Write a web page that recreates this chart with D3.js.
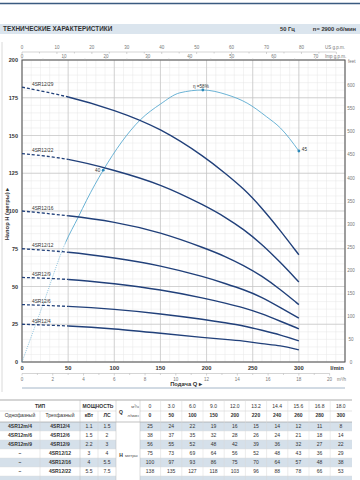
<!DOCTYPE html>
<html lang="ru">
<head>
<meta charset="UTF-8">
<title>4SR12 - характеристики</title>
<script src="https://d3js.org/d3.v7.min.js"></script>
<style>
  body { margin: 0; background: #fff; font-family: "Liberation Sans", Arial, sans-serif; }
  svg { display: block; }
  .minor line { stroke: #e6e6e6; stroke-width: 0.5; }
  .major line { stroke: #c4c4c4; stroke-width: 0.7; }
  .tick-gray { fill: #777; font-size: 4.5px; }
  .cell { fill: #333; font-size: 5px; text-anchor: middle; }
</style>
</head>
<body>
<svg width="360" height="480"></svg>
<script>
// flow points of the curves and the table (l/min and m3/h)
const flowLpm = [0, 50, 100, 150, 200, 220, 240, 260, 280, 300];
const flowM3h = ["0", "3.0", "6.0", "9.0", "12.0", "13.2", "14.4", "15.6", "16.8", "18.0"];

// pump models
const threePhase = ["4SR12/4", "4SR12/6", "4SR12/9", "4SR12/12", "4SR12/16", "4SR12/22", "4SR12/29"];
const singlePhase = ["4SR12m/4", "4SR12m/6", "4SR12m/9", "–", "–", "–", "–"];
const powerKw = ["1.1", "1.5", "2.2", "3", "4", "5.5", "7.5"];
const powerHp = ["1.5", "2", "3", "4", "5.5", "7.5", "10"];

// head in metres for each model
const head4  = [25, 24, 22, 19, 16, 15, 14, 12, 11, 8];
const head6  = [38, 37, 35, 32, 28, 26, 24, 21, 18, 14];
const head9  = [56, 55, 52, 48, 42, 39, 36, 32, 27, 22];
const head12 = [75, 73, 69, 64, 56, 52, 48, 43, 36, 29];
const head16 = [100, 97, 93, 86, 75, 70, 64, 57, 48, 38];
const head22 = [138, 135, 127, 118, 103, 96, 88, 78, 66, 53];
const head29 = [182, 176, 167, 155, 135, 125, 115, 102, 87, 71];
const heads = [head4, head6, head9, head12, head16, head22, head29];

// efficiency curve (%)
const effFlow  = [0, 23, 47, 61, 70, 88, 128, 150, 171, 196, 222, 244, 265, 280, 300];
const effValue = [0, 12.4, 25.4, 30.9, 34.5, 40.9, 51.6, 55.0, 57.4, 58, 57, 55.2, 52.3, 49.9, 45];
const effMarkIdx = [5, 9, 14];
const effMarkLabel = ["40", "η =58%", "45"];

// axis ticks
const headTicks = [0, 25, 50, 75, 100, 125, 150, 175, 200];
const flowTicks = [0, 50, 100, 150, 200, 250, 300];
const feetTicks = d3.range(0, 601, 50);
const usTicks = d3.range(0, 81, 10);
const impTicks = d3.range(0, 71, 10);
const m3Ticks = d3.range(0, 21, 2);

const svg = d3.select("svg");
const pLeft = 22, pRight = 345, pTop = 60, pBottom = 362;

const x = d3.scaleLinear().domain([0, 350]).range([pLeft, pRight]);
const y = d3.scaleLinear().domain([0, 200]).range([pBottom, pTop]);
const yEff = d3.scaleLinear().domain([0, 64.4]).range([pBottom, pTop]);
const yFeet = d3.scaleLinear().domain([0, 200 / 0.3048]).range([pBottom, pTop]);
const xUs = d3.scaleLinear().domain([0, 350 / 3.785]).range([pLeft, pRight]);
const xImp = d3.scaleLinear().domain([0, 350 / 4.546]).range([pLeft, pRight]);
const xM3 = d3.scaleLinear().domain([0, 21]).range([pLeft, pRight]);

// page header
svg.append("line").attr("x1", 0).attr("x2", 360).attr("y1", 3.5).attr("y2", 3.5)
   .attr("stroke", "#3a5a80").attr("stroke-width", 1.6);
svg.append("line").attr("x1", 2).attr("x2", 2).attr("y1", 42).attr("y2", 392)
   .attr("stroke", "#d0d0d0").attr("stroke-width", 0.8);
svg.append("rect").attr("x", 0).attr("y", 24).attr("width", 360).attr("height", 10).attr("fill", "#dbe5ee");
svg.append("text").attr("x", 3).attr("y", 31.3).attr("font-size", 6.4).attr("font-weight", "bold")
   .attr("fill", "#333").text("ТЕХНИЧЕСКИЕ ХАРАКТЕРИСТИКИ");
svg.append("text").attr("x", 280).attr("y", 31.3).attr("font-size", 5.8).attr("font-weight", "bold")
   .attr("fill", "#333").text("50 Гц");
svg.append("text").attr("x", 356).attr("y", 31.3).attr("font-size", 5.8).attr("font-weight", "bold")
   .attr("fill", "#333").attr("text-anchor", "end").text("n= 2900  об/мин");

// grid
svg.append("g").attr("class", "minor").selectAll("line")
   .data(d3.range(0, 351, 10)).join("line")
   .attr("x1", d => x(d)).attr("x2", d => x(d)).attr("y1", pTop).attr("y2", pBottom);
svg.append("g").attr("class", "minor").selectAll("line")
   .data(d3.range(0, 201, 5)).join("line")
   .attr("x1", pLeft).attr("x2", pRight).attr("y1", d => y(d)).attr("y2", d => y(d));
svg.append("g").attr("class", "major").selectAll("line")
   .data(d3.range(0, 351, 50)).join("line")
   .attr("x1", d => x(d)).attr("x2", d => x(d)).attr("y1", pTop).attr("y2", pBottom);
svg.append("g").attr("class", "major").selectAll("line")
   .data(headTicks).join("line")
   .attr("x1", pLeft).attr("x2", pRight).attr("y1", d => y(d)).attr("y2", d => y(d));
svg.append("rect").attr("x", pLeft).attr("y", pTop).attr("width", pRight - pLeft).attr("height", pBottom - pTop)
   .attr("fill", "none").attr("stroke", "#555").attr("stroke-width", 1);

// left axis
svg.append("g").selectAll("text").data(headTicks).join("text")
   .attr("x", 18).attr("y", d => y(d) + 2).attr("text-anchor", "end")
   .attr("font-size", 5.5).attr("font-weight", "bold").attr("fill", "#333").text(d => d);
svg.append("text").attr("transform", "translate(9,214) rotate(-90)").attr("text-anchor", "middle")
   .attr("font-size", 5.8).attr("font-weight", "bold").attr("fill", "#333").text("Напор Н (метры) ▸");

// right axis (feet)
svg.append("g").selectAll("text").data(feetTicks).join("text")
   .attr("class", "tick-gray").attr("x", 351).attr("y", d => yFeet(d) + 1.6)
   .attr("text-anchor", "middle").text(d => d);
svg.append("text").attr("class", "tick-gray").attr("x", 348).attr("y", 63).text("feet");

// top axes (US and Imp g.p.m.)
svg.append("line").attr("x1", pLeft).attr("x2", xUs(90)).attr("y1", 52).attr("y2", 52)
   .attr("stroke", "#aaa").attr("stroke-width", 0.5);
svg.append("g").selectAll("line").data(d3.range(0, 91, 5)).join("line")
   .attr("x1", d => xUs(d)).attr("x2", d => xUs(d)).attr("y1", 52).attr("y2", d => d % 10 ? 53.5 : 54)
   .attr("stroke", "#aaa").attr("stroke-width", 0.5);
svg.append("g").selectAll("text").data(usTicks).join("text")
   .attr("class", "tick-gray").attr("x", d => xUs(d)).attr("y", 48.5).attr("text-anchor", "middle").text(d => d);
svg.append("g").selectAll("line").data(d3.range(0, 76, 5)).join("line")
   .attr("x1", d => xImp(d)).attr("x2", d => xImp(d)).attr("y1", pTop).attr("y2", d => d % 10 ? pTop - 1.5 : pTop - 2)
   .attr("stroke", "#aaa").attr("stroke-width", 0.5);
svg.append("g").selectAll("text").data(impTicks).join("text")
   .attr("class", "tick-gray").attr("x", d => xImp(d)).attr("y", 57.5).attr("text-anchor", "middle").text(d => d);
svg.append("text").attr("class", "tick-gray").attr("x", 325).attr("y", 48.5).text("US g.p.m.");
svg.append("text").attr("class", "tick-gray").attr("x", 325).attr("y", 57.5).text("Imp g.p.m.");

// bottom axes
svg.append("g").selectAll("text").data(flowTicks).join("text")
   .attr("x", d => x(d)).attr("y", 370).attr("text-anchor", "middle")
   .attr("font-size", 5.8).attr("font-weight", "bold").attr("fill", "#333").text(d => d);
svg.append("text").attr("x", 337).attr("y", 370).attr("text-anchor", "middle")
   .attr("font-size", 5.8).attr("font-weight", "bold").attr("fill", "#333").text("l/min");
svg.append("line").attr("x1", pLeft).attr("x2", xM3(20)).attr("y1", 373.5).attr("y2", 373.5)
   .attr("stroke", "#aaa").attr("stroke-width", 0.5);
svg.append("g").selectAll("line").data(d3.range(0, 21, 1)).join("line")
   .attr("x1", d => xM3(d)).attr("x2", d => xM3(d)).attr("y1", 373.5).attr("y2", d => d % 2 ? 375 : 375.5)
   .attr("stroke", "#aaa").attr("stroke-width", 0.5);
svg.append("g").selectAll("text").data(m3Ticks).join("text")
   .attr("class", "tick-gray").attr("x", d => xM3(d)).attr("y", 380.5).attr("text-anchor", "middle").text(d => d);
svg.append("text").attr("class", "tick-gray").attr("x", 337).attr("y", 380.5).text("m³/h");
svg.append("text").attr("x", 186).attr("y", 385.5).attr("text-anchor", "middle")
   .attr("font-size", 5.8).attr("font-weight", "bold").attr("fill", "#333").text("Подача Q ▸");
svg.append("line").attr("x1", pLeft).attr("x2", pRight).attr("y1", 388).attr("y2", 388)
   .attr("stroke", "#8ea3ba").attr("stroke-width", 0.8);

// clip regions: dashed start and solid rest
const defs = svg.append("defs");
defs.append("clipPath").attr("id", "clipDash").append("rect")
    .attr("x", pLeft - 2).attr("y", 0).attr("width", x(50) - pLeft + 2).attr("height", 480);
defs.append("clipPath").attr("id", "clipSolid").append("rect")
    .attr("x", x(50)).attr("y", 0).attr("width", pRight - x(50)).attr("height", 480);
defs.append("clipPath").attr("id", "clipEffDot").append("rect")
    .attr("x", pLeft - 2).attr("y", 0).attr("width", x(effFlow[2]) - pLeft + 2).attr("height", 480);
defs.append("clipPath").attr("id", "clipEffSolid").append("rect")
    .attr("x", x(effFlow[2])).attr("y", 0).attr("width", pRight - x(effFlow[2])).attr("height", 480);

// efficiency curve
const effLine = d3.line().x(d => x(d[0])).y(d => yEff(d[1])).curve(d3.curveMonotoneX);
const effPts = effFlow.map((q, i) => [q, effValue[i]]);
svg.append("path").attr("d", effLine(effPts)).attr("clip-path", "url(#clipEffDot)")
   .attr("fill", "none").attr("stroke", "#5aaad0").attr("stroke-width", 0.8).attr("stroke-dasharray", "0.8,1.2");
svg.append("path").attr("d", effLine(effPts)).attr("clip-path", "url(#clipEffSolid)")
   .attr("fill", "none").attr("stroke", "#5aaad0").attr("stroke-width", 0.9);

// pump curves
const pumpLine = d3.line().x(d => x(d[0])).y(d => y(d[1])).curve(d3.curveBasis);
heads.forEach((h, k) => {
  const pts = flowLpm.map((q, i) => [q, h[i]]);
  svg.append("path").attr("d", pumpLine(pts)).attr("clip-path", "url(#clipDash)")
     .attr("fill", "none").attr("stroke", "#21407a").attr("stroke-width", 1.3).attr("stroke-dasharray", "3,2");
  svg.append("path").attr("d", pumpLine(pts)).attr("clip-path", "url(#clipSolid)")
     .attr("fill", "none").attr("stroke", "#21407a").attr("stroke-width", 1.4);
  svg.append("text").attr("x", x(0) + 10).attr("y", y(h[0]) - 1.5)
     .attr("font-size", 4.8).attr("fill", "#333").text(threePhase[k]);
});

// efficiency markers
effMarkIdx.forEach((idx, k) => {
  const cx = x(effFlow[idx]), cy = yEff(effValue[idx]);
  svg.append("circle").attr("cx", cx).attr("cy", cy).attr("r", 1.4).attr("fill", "#2c88b8");
  const t = svg.append("text").attr("font-size", 4.6).attr("fill", "#333").text(effMarkLabel[k]);
  if (k === 0) t.attr("x", cx - 3).attr("y", cy + 1.5).attr("text-anchor", "end");
  else if (k === 1) t.attr("x", cx - 2).attr("y", cy - 2.5).attr("text-anchor", "middle");
  else t.attr("x", cx + 3).attr("y", cy).attr("text-anchor", "start");
});

// table
const tTop = 400, rowH = 9, dataTop = 422;
const colX = flowM3h.map((d, i) => 150 + i * 21.2);
const tbl = svg.append("g");
threePhase.forEach((m, i) => {
  if (i % 2 === 0) {
    tbl.append("rect").attr("x", 0).attr("y", dataTop + i * rowH).attr("width", 116).attr("height", rowH).attr("fill", "#d5e0ea");
    tbl.append("rect").attr("x", 140).attr("y", dataTop + i * rowH).attr("width", 212).attr("height", rowH).attr("fill", "#d5e0ea");
  }
});
// lines
const hl = (x1, x2, yy, c, w) => tbl.append("line").attr("x1", x1).attr("x2", x2).attr("y1", yy).attr("y2", yy)
  .attr("stroke", c).attr("stroke-width", w);
const vl = (xx, y1, y2, c) => tbl.append("line").attr("x1", xx).attr("x2", xx).attr("y1", y1).attr("y2", y2)
  .attr("stroke", c).attr("stroke-width", 0.5);
hl(0, 352, tTop, "#888", 0.7);
hl(0, 116, 411, "#c8c8c8", 0.5);
hl(140, 352, 411, "#c8c8c8", 0.5);
hl(0, 352, dataTop, "#999", 0.6);
threePhase.forEach((m, i) => { hl(0, 116, dataTop + (i + 1) * rowH, "#d8d8d8", 0.4); hl(140, 352, dataTop + (i + 1) * rowH, "#d8d8d8", 0.4); });
[80, 116, 140].forEach(xx => vl(xx, tTop, 480, "#bbb"));
vl(40, 411, 480, "#d0d0d0");
vl(98, 411, 480, "#d0d0d0");
colX.slice(1).forEach(cx => vl(cx - 10.6, tTop, 480, "#d8d8d8"));

const cell = (tx, ty, s, bold, size) => tbl.append("text").attr("class", "cell").attr("x", tx).attr("y", ty)
  .attr("font-weight", bold ? "bold" : null).attr("font-size", size || 5).text(s);
cell(40, 407.5, "ТИП", true);
cell(98, 407.5, "МОЩНОСТЬ", true);
cell(20, 417, "Однофазный", false, 4.6);
cell(60, 417, "Трехфазный", false, 4.6);
cell(89, 417, "кВт", true);
cell(107, 417, "ЛС", true);
cell(121, 413.5, "Q", true, 7.5);
tbl.append("text").attr("x", 139).attr("y", 407.5).attr("text-anchor", "end").attr("font-size", 4.3).attr("fill", "#555").text("м³/ч");
tbl.append("text").attr("x", 139).attr("y", 417).attr("text-anchor", "end").attr("font-size", 4.3).attr("fill", "#555").text("л/мин");
flowM3h.forEach((s, i) => cell(colX[i], 407.5, s, false));
flowLpm.forEach((q, i) => cell(colX[i], 417, q, true));
cell(121, 457, "H", true, 6.5);
tbl.append("text").attr("x", 125).attr("y", 456.5).attr("font-size", 4.3).attr("fill", "#555").text("метры");
// the last row (4SR12/29) falls below the picture edge: only its shading shows
threePhase.slice(0, 6).forEach((m, i) => {
  const ty = dataTop + i * rowH + 6.3;
  cell(20, ty, singlePhase[i], true);
  cell(60, ty, m, true);
  cell(89, ty, powerKw[i], false);
  cell(107, ty, powerHp[i], false);
  heads[i].forEach((h, j) => cell(colX[j], ty, h, false));
});
</script>
</body>
</html>
